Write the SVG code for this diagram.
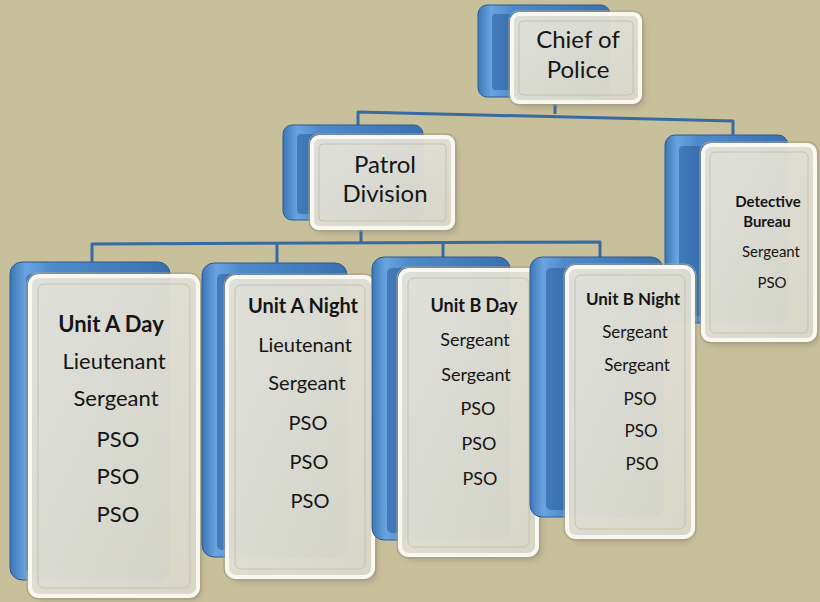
<svg xmlns="http://www.w3.org/2000/svg" width="820" height="602" viewBox="0 0 820 602">
<defs>
<linearGradient id="blueG" x1="0" y1="0" x2="1" y2="0">
<stop offset="0" stop-color="#3d76b6"/>
<stop offset="0.1" stop-color="#6aa4e0"/>
<stop offset="0.25" stop-color="#4f8bcc"/>
<stop offset="1" stop-color="#3a70b0"/>
</linearGradient>
<linearGradient id="cardG" x1="0" y1="0" x2="1" y2="1">
<stop offset="0" stop-color="#e8e7df"/>
<stop offset="1" stop-color="#dbd9cb"/>
</linearGradient>
<filter id="sh" x="-20%" y="-20%" width="140%" height="140%">
<feGaussianBlur stdDeviation="3"/>
</filter>
<style>
.blue{fill:url(#blueG);stroke:#2a5a92;stroke-width:1}
.bluein{fill:#2c61a0;opacity:0.6}
.shadow{fill:#6f6a55;opacity:0.35;filter:url(#sh)}
.card{fill:url(#cardG);fill-opacity:0.94;stroke:#f8f7f0;stroke-width:4}
.cardout{fill:none;stroke:#a29e88;stroke-width:1}
.bevel{fill:none;stroke:#c6c2ae;stroke-width:1}
.conn{fill:none;stroke:#3a6aa2;stroke-width:3;stroke-linejoin:round}
text{font-family:Lato,"Open Sans","Noto Sans",sans-serif;fill:#151515;text-anchor:middle}
.b{font-weight:bold}
</style>
</defs>
<rect width="820" height="602" fill="#c8c09a"/>

<g id="connectors">
<polyline class="conn" points="555,101 555,114"/>
<polyline class="conn" points="358,126 358,112 733,121 733,136"/>
<polyline class="conn" points="361,228 361,244"/>
<polyline class="conn" points="92,263 92,244 600,242 600,258"/>
<polyline class="conn" points="277,243 277,264"/>
<polyline class="conn" points="443,242 443,258"/>
</g>

<g id="chief">
<rect class="blue" x="478" y="5" width="132" height="92" rx="9"/>
<rect class="bluein" x="492" y="14" width="112" height="76" rx="4"/>
<rect class="shadow" x="516" y="19" width="128" height="88" rx="7"/>
<rect class="card" x="512" y="14" width="128" height="88" rx="7"/>
<rect class="cardout" x="509" y="11" width="134" height="94" rx="9"/>
<rect class="bevel" x="519" y="21" width="114" height="74" rx="4"/>
<text x="578" y="48" font-size="24">Chief of</text>
<text x="578" y="78" font-size="24">Police</text>
</g>

<g id="patrol">
<rect class="blue" x="283" y="125" width="140" height="95" rx="9"/>
<rect class="bluein" x="297" y="134" width="120" height="80" rx="4"/>
<rect class="shadow" x="316" y="142" width="141" height="91" rx="7"/>
<rect class="card" x="312" y="137" width="141" height="91" rx="7"/>
<rect class="cardout" x="309" y="134" width="147" height="97" rx="9"/>
<rect class="bevel" x="319" y="144" width="127" height="77" rx="4"/>
<text x="385" y="173" font-size="24">Patrol</text>
<text x="385" y="202" font-size="24">Division</text>
</g>

<g id="detective">
<rect class="blue" x="665" y="135" width="123" height="188" rx="10"/>
<rect class="bluein" x="679" y="146" width="103" height="170" rx="4"/>
<rect class="shadow" x="707" y="150" width="111" height="195" rx="8"/>
<rect class="card" x="703" y="145" width="112" height="195" rx="8"/>
<rect class="cardout" x="700" y="142" width="118" height="201" rx="10"/>
<rect class="bevel" x="710" y="152" width="98" height="181" rx="5"/>
<text class="b" x="768" y="207" font-size="15">Detective</text>
<text class="b" x="767" y="227" font-size="15">Bureau</text>
<text x="771" y="257" font-size="15">Sergeant</text>
<text x="772" y="288" font-size="15">PSO</text>
</g>

<g id="unitADay">
<rect class="blue" x="10" y="262" width="160" height="318" rx="12"/>
<rect class="bluein" x="26" y="274" width="138" height="298" rx="5"/>
<rect class="shadow" x="35" y="282" width="166" height="318" rx="9"/>
<rect class="card" x="30" y="276" width="168" height="320" rx="9"/>
<rect class="cardout" x="27" y="273" width="174" height="326" rx="11"/>
<rect class="bevel" x="38" y="284" width="152" height="304" rx="6"/>
<text class="b" x="111" y="332" font-size="22">Unit A Day</text>
<text x="114" y="369" font-size="22">Lieutenant</text>
<text x="116" y="406" font-size="22">Sergeant</text>
<text x="118" y="447" font-size="22">PSO</text>
<text x="118" y="484" font-size="22">PSO</text>
<text x="118" y="522" font-size="22">PSO</text>
</g>

<g id="unitANight">
<rect class="blue" x="202" y="263" width="145" height="294" rx="12"/>
<rect class="bluein" x="217" y="274" width="124" height="276" rx="5"/>
<rect class="shadow" x="231" y="282" width="146" height="300" rx="9"/>
<rect class="card" x="227" y="277" width="146" height="300" rx="9"/>
<rect class="cardout" x="224" y="274" width="152" height="306" rx="11"/>
<rect class="bevel" x="235" y="285" width="130" height="284" rx="6"/>
<text class="b" x="303" y="313" font-size="20">Unit A Night</text>
<text x="305" y="352" font-size="20">Lieutenant</text>
<text x="307" y="390" font-size="20">Sergeant</text>
<text x="308" y="430" font-size="20">PSO</text>
<text x="309" y="469" font-size="20">PSO</text>
<text x="310" y="508" font-size="20">PSO</text>
</g>

<g id="unitBDay">
<rect class="blue" x="372" y="257" width="138" height="283" rx="12"/>
<rect class="bluein" x="387" y="268" width="117" height="265" rx="5"/>
<rect class="shadow" x="404" y="275" width="137" height="285" rx="9"/>
<rect class="card" x="400" y="270" width="137" height="285" rx="9"/>
<rect class="cardout" x="397" y="267" width="143" height="291" rx="11"/>
<rect class="bevel" x="408" y="278" width="121" height="269" rx="6"/>
<text class="b" x="474" y="312" font-size="18">Unit B Day</text>
<text x="475" y="346" font-size="18">Sergeant</text>
<text x="476" y="381" font-size="18">Sergeant</text>
<text x="478" y="415" font-size="18">PSO</text>
<text x="479" y="450" font-size="18">PSO</text>
<text x="480" y="485" font-size="18">PSO</text>
</g>

<g id="unitBNight">
<rect class="blue" x="530" y="257" width="133" height="260" rx="12"/>
<rect class="bluein" x="546" y="268" width="111" height="242" rx="5"/>
<rect class="shadow" x="571" y="272" width="122" height="270" rx="9"/>
<rect class="card" x="567" y="267" width="126" height="270" rx="9"/>
<rect class="cardout" x="564" y="264" width="132" height="276" rx="11"/>
<rect class="bevel" x="575" y="275" width="110" height="254" rx="6"/>
<text class="b" x="633" y="305" font-size="17">Unit B Night</text>
<text x="635" y="338" font-size="17">Sergeant</text>
<text x="637" y="371" font-size="17">Sergeant</text>
<text x="640" y="405" font-size="17">PSO</text>
<text x="641" y="437" font-size="17">PSO</text>
<text x="642" y="470" font-size="17">PSO</text>
</g>
</svg>
